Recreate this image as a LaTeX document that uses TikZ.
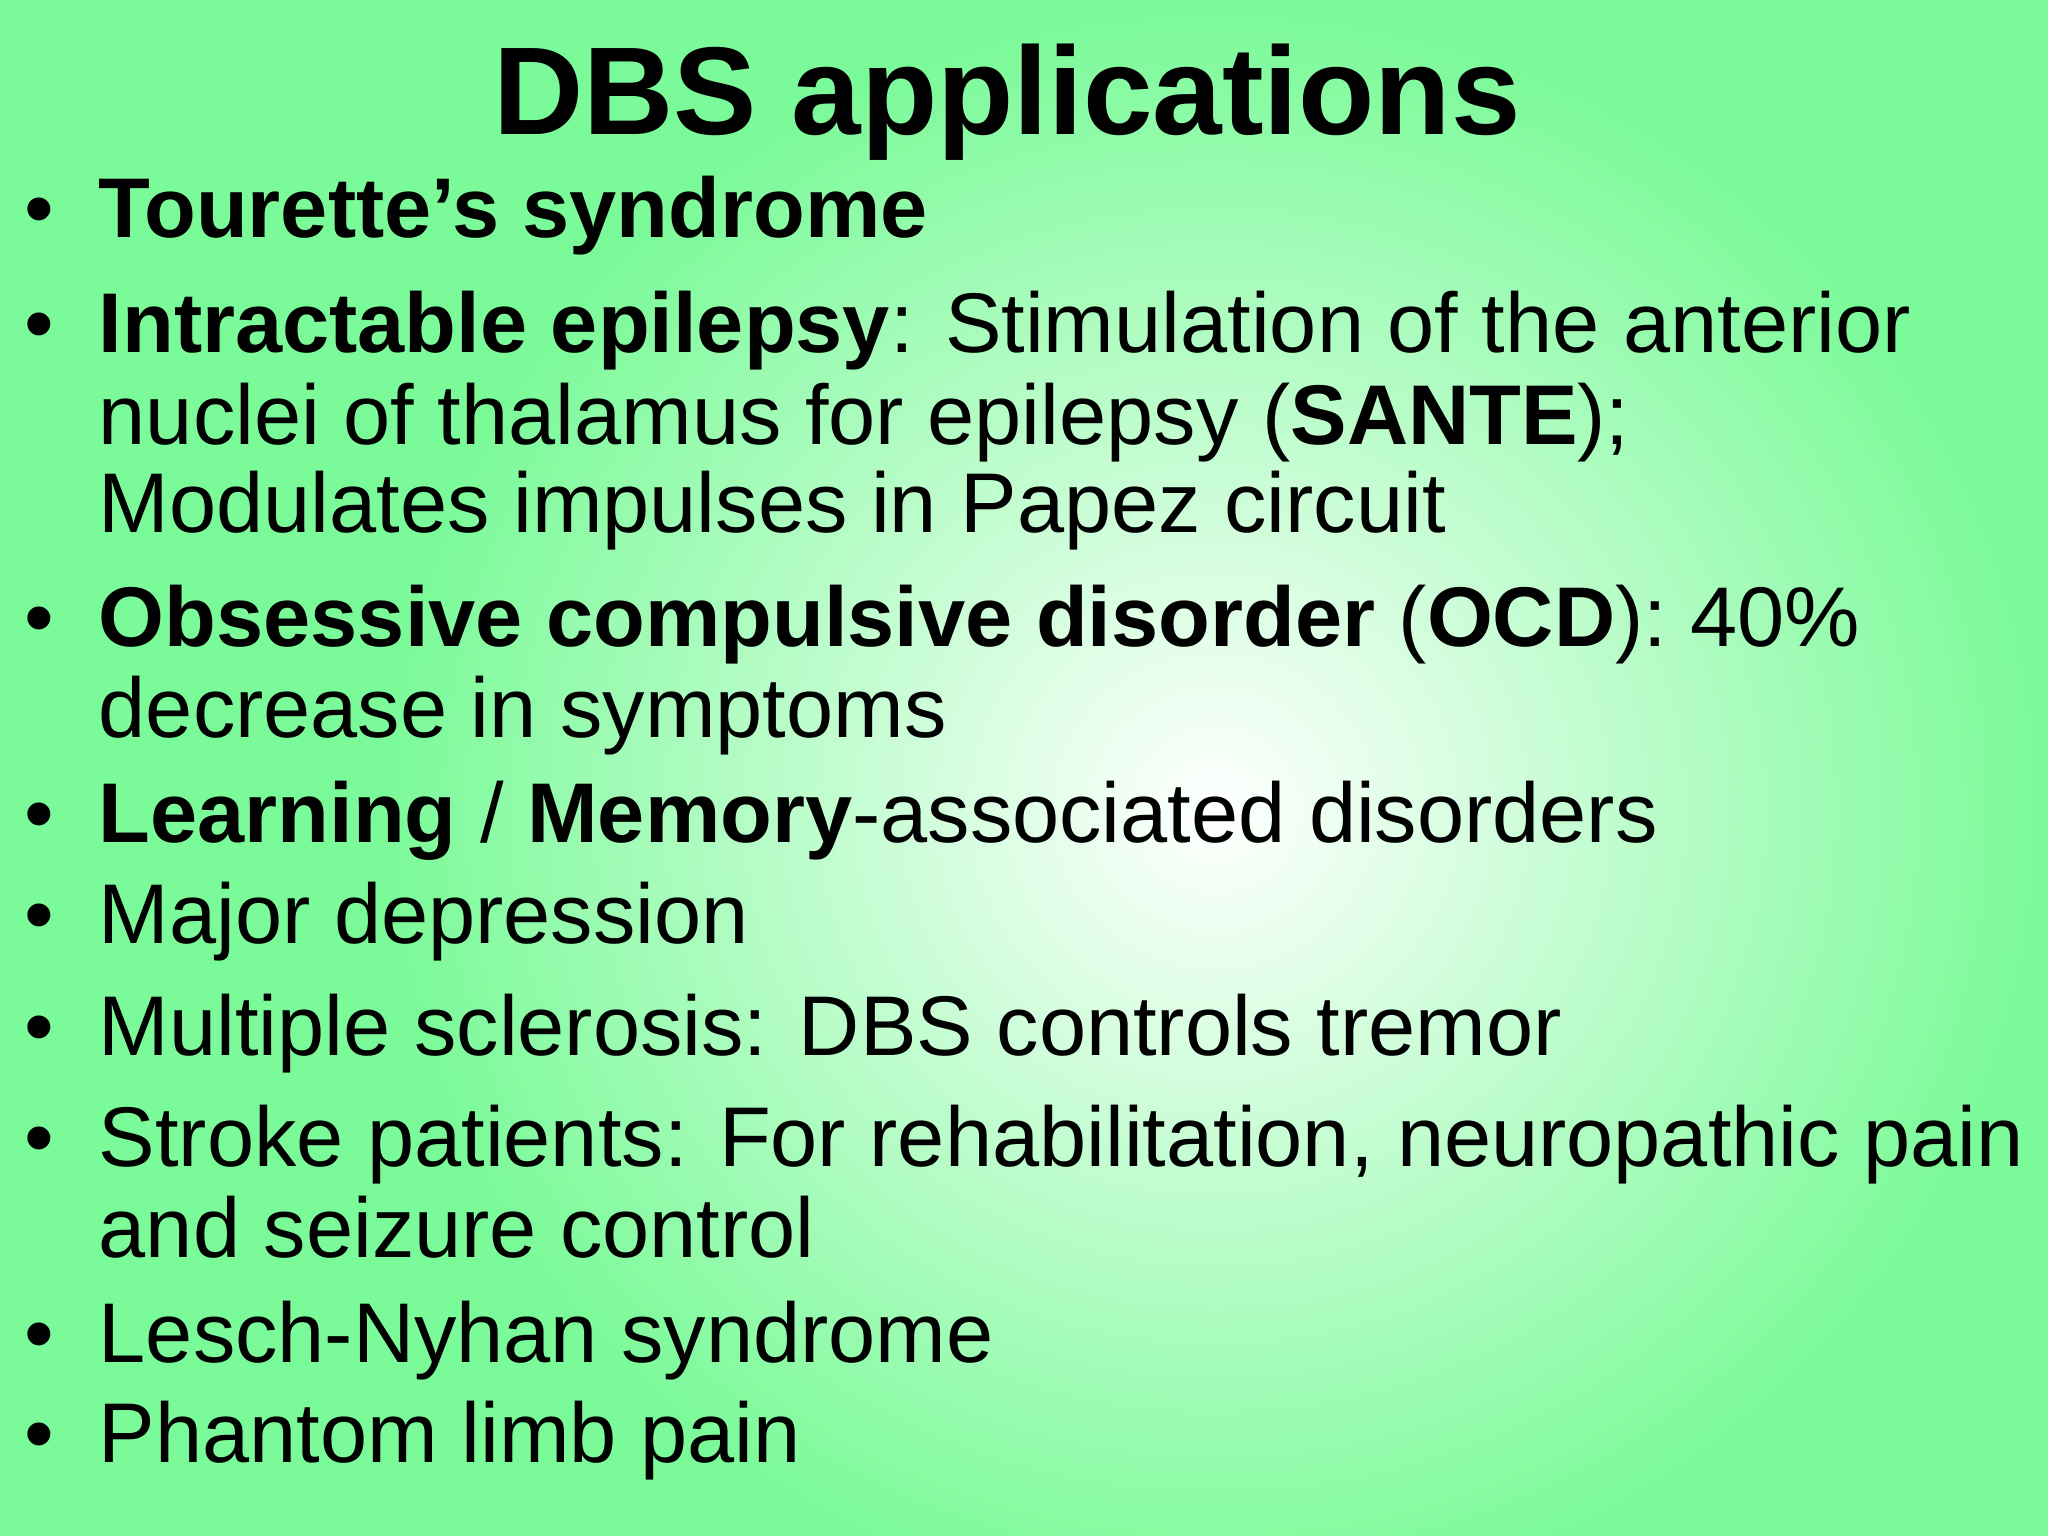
\documentclass[tikz,border=0pt]{standalone}
\usepackage{fontspec}
\setmainfont{Liberation Sans}
\definecolor{bggreen}{RGB}{122,250,152}
\begin{document}
\begin{tikzpicture}[x=0.01cm,y=-0.01cm,
  txt/.style={anchor=base west,inner sep=0,font=\fontsize{18.45}{20}\selectfont},
  bul/.style={anchor=base west,inner sep=0,font=\fontsize{18.45}{20}\selectfont}]
\useasboundingbox (0,0) rectangle (1568,1176);
\fill[bggreen] (0,0) rectangle (1568,1176);
\shade[inner color=white,outer color=bggreen] (930,620) ellipse (640 and 620);
\node[anchor=base,inner sep=0,font=\fontsize{27.2}{30}\selectfont\bfseries] (title) at (771,103) {DBS applications};
\foreach \y/\n in {182/b1,270/b2,495/b3,645/b4,722/b5,808/b6,893/b7,1043/b8,1120/b9}
  \node[bul] (\n) at (18,\y) {•};
\node[txt] (t1) at (75,182) {\textbf{Tourette’s syndrome}};
\node[txt] (t2a) at (75,270) {\textbf{Intractable epilepsy}: Stimulation of the anterior};
\node[txt] (t2b) at (75,340) {nuclei of thalamus for epilepsy (\textbf{SANTE});};
\node[txt] (t2c) at (75,408) {Modulates impulses in Papez circuit};
\node[txt] (t3a) at (75,495) {\textbf{Obsessive compulsive disorder} (\textbf{OCD}): 40\%};
\node[txt] (t3b) at (75,565) {decrease in symptoms};
\node[txt] (t4) at (75,645) {\textbf{Learning} / \textbf{Memory}-associated disorders};
\node[txt] (t5) at (75,722) {Major depression};
\node[txt] (t6) at (75,808) {Multiple sclerosis: DBS controls tremor};
\node[txt] (t7a) at (75,893) {Stroke patients: For rehabilitation, neuropathic pain};
\node[txt] (t7b) at (75,963) {and seizure control};
\node[txt] (t8) at (75,1043) {Lesch-Nyhan syndrome};
\node[txt] (t9) at (75,1120) {Phantom limb pain};
\end{tikzpicture}
\end{document}
